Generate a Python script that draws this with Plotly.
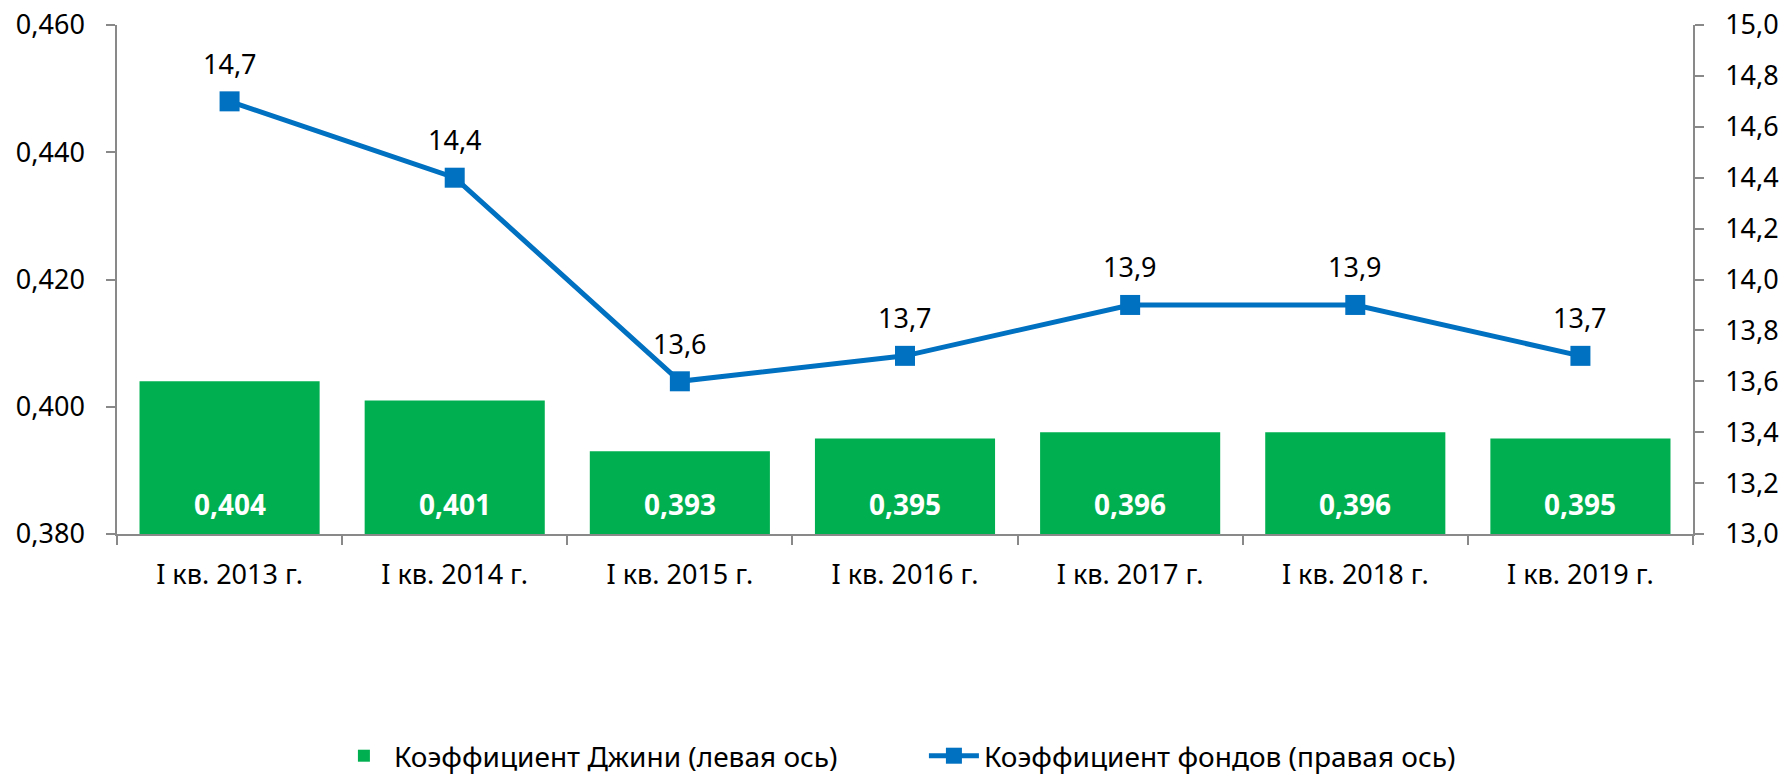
import plotly.graph_objects as go

# Categories and values
quarters = ['I кв. 2013 г.', 'I кв. 2014 г.', 'I кв. 2015 г.', 'I кв. 2016 г.',
            'I кв. 2017 г.', 'I кв. 2018 г.', 'I кв. 2019 г.']
gini = [0.404, 0.401, 0.393, 0.395, 0.396, 0.396, 0.395]
funds = [14.7, 14.4, 13.6, 13.7, 13.9, 13.9, 13.7]

# Axis ticks
gini_ticks = [0.380, 0.400, 0.420, 0.440, 0.460]
funds_ticks = [13.0, 13.2, 13.4, 13.6, 13.8, 14.0, 14.2, 14.4, 14.6, 14.8, 15.0]

base = 0.380
axis_color = '#898989'
font_family = 'Noto Sans'


def comma(v, digits):
    return f'{v:.{digits}f}'.replace('.', ',')


fig = go.Figure()

fig.add_trace(go.Bar(
    x=quarters,
    y=[g - base for g in gini],
    base=base,
    name='Коэффициент Джини (левая ось)',
    marker=dict(color='#00B050', line=dict(width=0)),
    hoverinfo='skip',
))

fig.add_trace(go.Scatter(
    x=quarters,
    y=funds,
    yaxis='y2',
    mode='lines+markers',
    name='Коэффициент фондов (правая ось)',
    line=dict(color='#0070C0', width=5),
    marker=dict(symbol='square', size=20, color='#0070C0'),
))

# Value labels inside bars (near the base)
for q, g in zip(quarters, gini):
    fig.add_annotation(x=q, y=base, xref='x', yref='y', text=comma(g, 3),
                       showarrow=False, yanchor='middle', yshift=30,
                       font=dict(color='white', size=28, family=font_family, weight='bold'))

# Value labels above line markers
for q, v in zip(quarters, funds):
    fig.add_annotation(x=q, y=v, xref='x', yref='y2', text=comma(v, 1),
                       showarrow=False, yanchor='middle', yshift=38,
                       font=dict(color='black', size=27, family=font_family))

axis_common = dict(
    showline=True,
    linecolor=axis_color,
    linewidth=1.5,
    ticks='outside',
    tickcolor=axis_color,
    tickwidth=1.5,
    ticklen=9,
    showgrid=False,
    zeroline=False,
    automargin=False,
    tickfont=dict(size=27, color='black'),
)

fig.update_layout(
    width=1786,
    height=781,
    font=dict(family=font_family, size=27, color='black'),
    separators=', ',
    plot_bgcolor='white',
    paper_bgcolor='white',
    margin=dict(l=117, r=93, t=25, b=247),
    bargap=0.2,
    showlegend=True,
    legend=dict(
        orientation='h',
        xref='paper', x=0.512, xanchor='center',
        yref='container', y=0.032, yanchor='middle',
        font=dict(size=28),
        itemwidth=50,
        entrywidth=525,
        entrywidthmode='pixels',
    ),
    xaxis=dict(
        **axis_common,
        tickson='boundaries',
        ticklabelstandoff=16,
    ),
    yaxis=dict(
        **axis_common,
        range=[0.380, 0.460],
        tickvals=gini_ticks,
        tickformat='.3f',
        ticklabelstandoff=16,
    ),
    yaxis2=dict(
        **axis_common,
        range=[13.0, 15.0],
        tickvals=funds_ticks,
        tickformat='.1f',
        overlaying='y',
        side='right',
        ticklabelstandoff=16,
    ),
)

# pin the plot to the top-left corner of the page so it fills the window exactly
pin_js = ("var gd = document.getElementById('{plot_id}');"
          "gd.style.position = 'fixed'; gd.style.top = '0'; gd.style.left = '0';"
          "document.body.style.margin = '0';")

fig.write_html('out.html', config={'displayModeBar': False}, post_script=pin_js)
